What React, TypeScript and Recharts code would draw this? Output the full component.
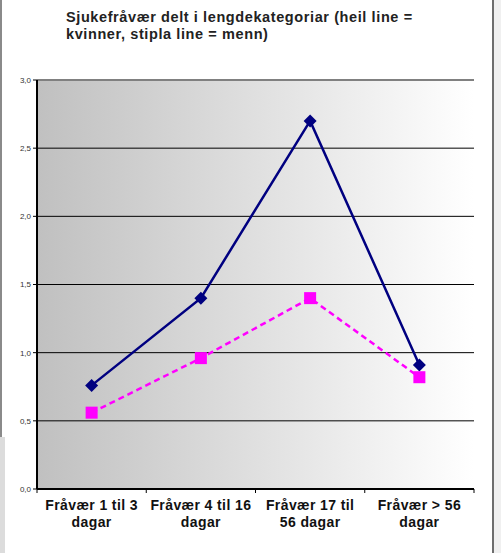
import React from "react";
import {
  LineChart, Line, XAxis, YAxis, CartesianGrid, ReferenceLine,
} from "recharts";

const categories = [
  "Fråvær 1 til 3|dagar",
  "Fråvær 4 til 16|dagar",
  "Fråvær 17 til|56 dagar",
  "Fråvær > 56|dagar",
];
const kvinner = [0.76, 1.4, 2.7, 0.91];
const menn = [0.56, 0.96, 1.4, 0.82];
const yTicks = [0, 0.5, 1, 1.5, 2, 2.5, 3];

const W = 501;
const H = 553;
const margin = { top: 80, right: 27, left: 0, bottom: 0 };
const yAxisWidth = 37;
const xAxisHeight = 64;
const band = (W - margin.right - yAxisWidth) / categories.length;

const data = categories.map((c, i) => ({ name: c, kvinner: kvinner[i], menn: menn[i] }));

const font = "'Liberation Sans', Arial, sans-serif";

// labels sit under each category, tick marks sit on the category borders
const XTick = ({ x, y, payload, index }: any) => {
  const lines = String(payload.value).split("|");
  const left = x - band / 2;
  return (
    <g>
      <line x1={left} x2={left} y1={y - 8} y2={y - 4} stroke="#000" />
      {index === categories.length - 1 && (
        <line x1={left + band} x2={left + band} y1={y - 8} y2={y - 4} stroke="#000" />
      )}
      <text textAnchor="middle" fontFamily={font} fontWeight="bold" fontSize={14} letterSpacing={0.4} fill="#111">
        {lines.map((l, i) => (
          <tspan key={i} x={x} y={y + 13 + i * 17}>{l}</tspan>
        ))}
      </text>
    </g>
  );
};

const Diamond = ({ cx, cy }: any) => (
  <path d={`M${cx},${cy - 6.5}L${cx + 6.5},${cy}L${cx},${cy + 6.5}L${cx - 6.5},${cy}Z`} fill="#000080" />
);

const Square = ({ cx, cy }: any) => (
  <rect x={cx - 6} y={cy - 6} width={12} height={12} fill="#ff00ff" />
);

export default function App() {
  return (
    <div style={{ position: "absolute", left: 0, top: 0, width: W, height: H, background: "#fff", overflow: "hidden" }}>
      <svg width={0} height={0} style={{ position: "absolute" }}>
        <defs>
          <linearGradient id="plotBg" x1="0" y1="0" x2="1" y2="0">
            <stop offset="0%" stopColor="#c0c0c0" />
            <stop offset="100%" stopColor="#ffffff" />
          </linearGradient>
        </defs>
      </svg>
      {/* frame pieces around the chart */}
      <div style={{ position: "absolute", left: 0, top: 0, width: 2, height: 437, background: "#8a8a8a" }} />
      <div style={{ position: "absolute", left: 0, top: 437, width: 5, height: 116, background: "#dcdcdc" }} />
      <div style={{ position: "absolute", left: 492, top: 0, width: 2, height: H, background: "#6e6e6e" }} />
      <div style={{ position: "absolute", left: 494, top: 0, width: 7, height: H, background: "#f0f0f0" }} />
      <div style={{ position: "absolute", left: 66, top: 9, fontFamily: font, fontWeight: "bold", fontSize: 14.5, letterSpacing: 0.6, lineHeight: "17px", color: "#222", whiteSpace: "nowrap" }}>
        Sjukefråvær delt i lengdekategoriar (heil line =<br />kvinner, stipla line = menn)
      </div>
      <div style={{ position: "absolute", left: 0, top: 0 }}>
        <LineChart width={W} height={H} data={data} margin={margin}>
          <CartesianGrid vertical={false} stroke="#000" fill="url(#plotBg)" fillOpacity={1} />
          <ReferenceLine y={3} stroke="#808080" strokeWidth={2} />
          <XAxis
            dataKey="name"
            height={xAxisHeight}
            padding={{ left: band / 2, right: band / 2 }}
            axisLine={{ stroke: "#000", strokeWidth: 2 }}
            tickLine={false}
            interval={0}
            tick={<XTick />}
          />
          <YAxis
            width={yAxisWidth}
            domain={[0, 3]}
            ticks={yTicks}
            axisLine={{ stroke: "#000", strokeWidth: 2 }}
            tickSize={4}
            tickLine={{ stroke: "#000" }}
            tick={{ fontSize: 8, fontFamily: font, fill: "#333" }}
            tickFormatter={(v: number) => v.toFixed(1).replace(".", ",")}
          />
          <YAxis
            yAxisId="frame"
            orientation="right"
            width={0}
            domain={[0, 3]}
            tick={false}
            tickLine={false}
            axisLine={{ stroke: "#808080", strokeWidth: 2 }}
          />
          <Line
            dataKey="kvinner"
            type="linear"
            stroke="#000080"
            strokeWidth={2.5}
            dot={<Diamond />}
            isAnimationActive={false}
          />
          <Line
            dataKey="menn"
            type="linear"
            stroke="#ff00ff"
            strokeWidth={2.5}
            strokeDasharray="6 4"
            dot={<Square />}
            isAnimationActive={false}
          />
        </LineChart>
      </div>
    </div>
  );
}
